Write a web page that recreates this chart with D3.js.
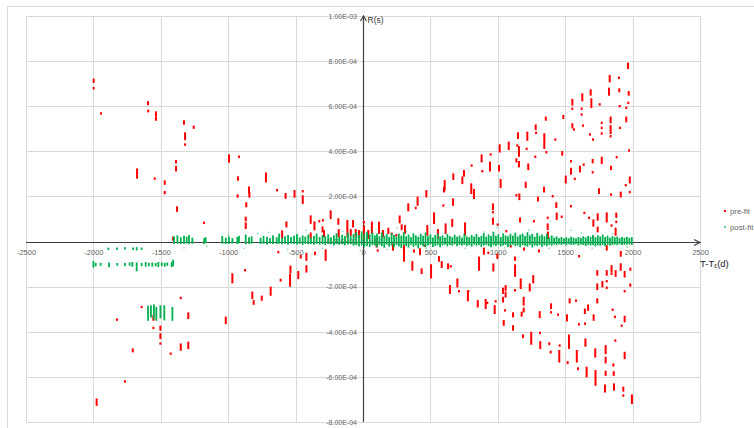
<!DOCTYPE html>
<html>
<head>
<meta charset="utf-8">
<script src="https://cdn.jsdelivr.net/npm/d3@7"></script>
<style>
  html, body { margin: 0; padding: 0; background: #fff; }
  svg { display: block; font-family: "Liberation Sans", Arial, sans-serif; }
</style>
</head>
<body>
<svg id="chart" width="754" height="428"></svg>
<script>
// ---- axis ticks -------------------------------------------------------
const xTicks = [-2500, -2000, -1500, -1000, -500, 0, 500, 1000, 1500, 2000, 2500];
const yTicks = [-8e-4, -6e-4, -4e-4, -2e-4, 0, 2e-4, 4e-4, 6e-4, 8e-4, 1e-3];
const seriesNames = ["pre-fit", "post-fit"];
const xTitle = "T-T";
const xTitleSub = "ε";
const xTitleTail = "(d)";
const yTitle = "R(s)";

// ---- timing residuals, in units of 1e-4 s -----------------------------
// one entry per observing session: [T-Tc (days), highest R, lowest R]
const UNIT = 1e-4;

const preFit = [
  // T < 0, R > 0
  [-1998, 7.17, 7.09], [-1998, 6.80, 6.80], [-1944, 5.68, 5.68], [-1595, 6.17, 6.10],
  [-1593, 5.80, 5.78], [-1536, 5.72, 5.62], [-1536, 5.50, 5.41], [-1328, 5.32, 5.23],
  [-1320, 4.79, 4.55], [-1320, 4.30, 4.30], [-1256, 5.09, 5.05], [-1676, 3.19, 2.84],
  [-1545, 2.79, 2.79], [-1387, 3.56, 3.52], [-1387, 3.30, 3.16], [-1471, 2.66, 2.57],
  [-1471, 2.19, 2.15], [-1380, 1.51, 1.37], [-1409, 0.16, 0.09], [-1179, 0.83, 0.83],
  [-994, 3.81, 3.55], [-920, 3.76, 3.76], [-927, 2.84, 2.75], [-930, 2.04, 2.00],
  [-866, 1.69, 1.57], [-870, 1.05, 0.95], [-870, 0.80, 0.61], [-846, 2.39, 2.19],
  [-843, 2.15, 2.00], [-720, 3.01, 2.67], [-638, 2.28, 2.28], [-574, 2.10, 1.95],
  [-508, 2.23, 2.00], [-447, 2.23, 2.23], [-447, 2.00, 1.72], [-568, 0.84, 0.68],
  [-600, 0.44, 0.18], [-388, 1.11, 0.84], [-388, 0.35, 0.16], [-360, 0.84, 0.55],
  [-324, 0.90, 0.90], [-297, 0.94, 0.94], [-300, 0.62, 0.46], [-289, 0.45, 0.24],
  [-240, 1.33, 1.05], [-183, 0.98, 0.80], [-180, 0.50, 0.24], [-116, 0.90, 0.61],
  [-116, 0.53, 0.24], [-91, 0.50, 0.31], [-74, 0.90, 0.68], [-54, 0.50, 0.24],
  [-30, 0.46, 0.18],
  // T > 0, R > 0
  [7, 0.86, 0.86], [7, 0.67, 0.09], [39, 0.46, 0.16], [66, 0.83, 0.39], [119, 0.83, 0.39],
  [148, 0.46, 0.24], [188, 0.56, 0.39], [213, 0.35, 0.35], [247, 0.28, 0.28], [272, 1.10, 0.86],
  [287, 0.71, 0.56], [312, 0.68, 0.40], [336, 1.64, 1.39], [391, 1.49, 1.49], [405, 1.94, 1.64],
  [470, 2.23, 2.01], [477, 0.68, 0.31], [527, 1.24, 0.83], [556, 0.50, 0.16], [596, 1.60, 1.60],
  [606, 2.67, 2.31], [601, 2.38, 2.23], [613, 0.75, 0.39], [662, 0.95, 0.70], [670, 2.97, 2.78],
  [668, 1.86, 1.64], [737, 2.83, 2.60], [749, 3.12, 2.93], [757, 0.80, 0.65], [757, 0.56, 0.31],
  [803, 2.53, 2.16], [823, 2.28, 1.94], [806, 3.37, 3.37], [880, 3.81, 3.56], [885, 3.12, 3.12],
  [942, 3.49, 3.16], [947, 3.86, 3.86], [964, 1.64, 1.45], [964, 1.30, 1.30], [964, 1.01, 0.80],
  [999, 0.75, 0.75], [1009, 3.34, 3.16], [1014, 4.26, 4.00], [1021, 2.72, 2.43], [1063, 0.46, 0.46],
  [1081, 4.38, 4.11], [1138, 3.64, 3.56], [1145, 4.26, 4.26], [1150, 4.79, 4.60], [1157, 4.18, 3.81],
  [1157, 3.52, 3.34], [1138, 2.05, 2.05], [1160, 2.08, 1.89], [1165, 1.02, 0.90], [1207, 2.60, 2.43],
  [1214, 4.11, 4.11], [1219, 4.82, 4.52], [1226, 3.41, 3.22], [1268, 0.90, 0.90], [1278, 3.76, 3.76],
  [1281, 5.14, 5.00], [1284, 4.82, 4.82], [1298, 1.94, 1.83], [1343, 2.38, 2.23], [1345, 4.75, 4.16],
  [1356, 5.49, 5.41], [1360, 3.96, 3.96], [1370, 1.05, 1.05], [1370, 0.75, 0.56], [1372, 0.39, 0.16],
  [1407, 2.01, 2.01], [1427, 4.52, 4.52], [1434, 1.69, 1.54], [1437, 1.23, 1.01], [1474, 1.10, 1.10],
  [1478, 3.96, 3.86], [1486, 5.56, 5.49], [1504, 2.87, 2.63], [1543, 3.56, 3.56], [1543, 3.22, 3.02],
  [1543, 1.57, 1.57], [1553, 6.27, 6.08], [1553, 5.89, 5.89], [1553, 5.19, 5.07], [1565, 4.97, 4.97],
  [1571, 2.78, 2.78], [1610, 3.31, 3.12], [1622, 5.89, 5.89], [1622, 5.63, 5.63], [1627, 6.52, 6.27],
  [1632, 5.14, 5.14], [1637, 3.41, 3.41], [1642, 1.27, 1.27], [1677, 1.05, 1.05], [1684, 4.75, 4.75],
  [1689, 6.70, 6.52], [1694, 6.30, 5.97], [1704, 3.61, 3.52], [1704, 3.07, 3.07], [1706, 4.52, 4.52],
  [1709, 0.93, 0.71], [1706, 0.21, 0.21], [1741, 1.20, 0.98], [1741, 0.61, 0.46], [1751, 2.31, 2.16],
  [1756, 6.08, 6.08], [1771, 5.26, 5.26], [1771, 5.04, 5.04], [1771, 4.79, 4.79], [1771, 3.71, 3.49],
  [1808, 1.24, 0.90], [1825, 6.77, 6.52], [1830, 7.33, 7.11], [1837, 5.49, 5.29], [1837, 5.11, 4.82],
  [1837, 4.67, 4.67], [1840, 3.31, 3.22], [1840, 2.08, 2.08], [1844, 0.71, 0.71], [1874, 0.56, 0.31],
  [1879, 1.23, 1.10], [1879, 0.87, 0.87], [1882, 3.74, 3.74], [1899, 7.26, 7.26], [1901, 6.74, 6.67],
  [1904, 6.00, 6.00], [1906, 5.04, 5.04], [1912, 2.16, 2.01], [1949, 2.50, 2.50], [1953, 5.93, 5.93],
  [1953, 5.49, 5.34], [1966, 7.88, 7.70], [1968, 6.15, 6.15], [1971, 6.62, 6.52], [1973, 4.04, 4.04],
  [1979, 2.83, 2.63], [1979, 2.19, 2.19],
  // T > 0, R < 0
  [101, 0.09, -0.21], [109, -0.40, -0.40], [222, -0.13, -0.35], [304, -0.21, -0.84], [366, -0.92, -1.24],
  [378, -0.40, -0.43], [423, -0.35, -0.55], [435, -1.24, -1.39], [458, -0.18, -0.18], [505, -1.06, -1.58],
  [564, -0.70, -0.84], [584, -0.92, -1.12], [631, -1.02, -1.17], [651, -1.10, -1.10], [645, -1.98, -2.27],
  [700, -1.69, -1.98], [712, -2.20, -2.20], [781, -2.20, -2.20], [778, -2.25, -2.60], [851, -2.65, -2.87],
  [910, -2.60, -2.94], [922, -2.72, -2.72], [897, -0.32, -0.53], [930, -0.50, -0.50], [861, -0.72, -1.24],
  [967, -1.02, -1.27], [977, -2.87, -3.16], [984, -2.65, -2.65], [997, -0.58, -0.72], [1039, -2.10, -2.27],
  [1039, -2.50, -2.65], [1044, -3.53, -3.68], [1053, -3.05, -3.05], [1058, -1.98, -2.13], [1058, -2.27, -2.43],
  [1096, -0.21, -0.21], [1113, -3.19, -3.31], [1113, -3.76, -3.90], [1128, -0.72, -0.80], [1128, -1.06, -1.51],
  [1128, -2.16, -2.16], [1170, -1.69, -2.05], [1177, -3.16, -3.28], [1187, -4.17, -4.23], [1192, -2.50, -2.79],
  [1192, -2.98, -3.09], [1194, -0.32, -0.35], [1237, -1.91, -2.16], [1248, -4.05, -4.52], [1263, -1.54, -1.80],
  [1305, -0.40, -0.43], [1311, -3.14, -3.34], [1313, -4.05, -4.05], [1315, -4.47, -4.71], [1382, -4.52, -4.54],
  [1392, -4.89, -4.91], [1395, -2.79, -2.94], [1395, -3.14, -3.14], [1447, -3.24, -3.24], [1456, -4.86, -5.31],
  [1459, -4.61, -4.61], [1513, -3.28, -3.49], [1518, -5.35, -5.38], [1528, -4.17, -4.71], [1533, -2.57, -2.69],
  [1580, -2.62, -2.62], [1586, -4.86, -5.31], [1595, -5.63, -5.65], [1603, -0.65, -0.65], [1602, -3.67, -3.67],
  [1646, -3.02, -3.16], [1647, -3.64, -3.64], [1650, -4.35, -4.61], [1659, -5.60, -5.97], [1670, -2.84, -3.02],
  [1711, -3.28, -3.46], [1723, -4.79, -5.09], [1725, -5.75, -5.95], [1725, -6.05, -6.34], [1738, -2.57, -2.69],
  [1738, -1.32, -1.46], [1738, -1.91, -2.10], [1776, -1.80, -1.98], [1795, -6.39, -6.64], [1800, -4.64, -4.94],
  [1800, -5.16, -5.35], [1800, -5.78, -5.90], [1808, -1.32, -1.46], [1808, -1.76, -1.76], [1808, -2.05, -2.05],
  [1808, -0.21, -0.35], [1844, -1.10, -1.32], [1844, -1.43, -1.43], [1852, -3.02, -3.02], [1857, -5.46, -5.49],
  [1860, -5.80, -5.90], [1862, -6.34, -6.56], [1869, -3.34, -3.34], [1872, -4.39, -4.39], [1874, -1.32, -1.51],
  [1912, -1.02, -1.24], [1912, -0.47, -0.62], [1919, -3.73, -3.73], [1931, -6.49, -6.60], [1931, -6.83, -6.83],
  [1941, -1.36, -1.54], [1941, -2.20, -2.20], [1941, -3.34, -3.53], [1941, -4.94, -5.16], [1983, -1.21, -1.24],
  [1983, -1.91, -1.95], [1995, -6.83, -7.15],
  // T < 0, R < 0
  [-1976, -7.01, -7.23], [-1825, -3.46, -3.46], [-1766, -6.20, -6.20], [-1708, -4.79, -4.86],
  [-1642, -2.90, -2.90], [-1555, -3.31, -3.46], [-1555, -3.83, -3.83], [-1503, -3.78, -3.90],
  [-1503, -4.12, -4.27], [-1503, -4.52, -4.52], [-1427, -4.97, -4.97], [-1352, -2.50, -2.50],
  [-1352, -4.57, -4.79], [-1296, -3.19, -3.38], [-1296, -4.49, -4.71], [-1018, -3.38, -3.61],
  [-969, -1.46, -1.80], [-875, -1.27, -1.27], [-821, -2.27, -2.50], [-811, -2.65, -2.75],
  [-751, -2.45, -2.57], [-685, -2.05, -2.35], [-611, -1.70, -1.72], [-628, -0.47, -0.47],
  [-538, -1.12, -1.36], [-541, -1.48, -1.95], [-480, -1.36, -1.61], [-462, -0.65, -0.70],
  [-420, -0.55, -0.80], [-420, -1.10, -1.32], [-356, -0.50, -0.55], [-277, -0.40, -0.80]
];

const postFit = [
  // early sessions, offset groups
  [-1889, -0.32, -0.32], [-1825, -0.32, -0.32], [-1766, -0.30, -0.30], [-1706, -0.32, -0.32],
  [-1679, -0.30, -0.34], [-1642, -0.32, -0.32],
  [-2000, -0.92, -1.10], [-1983, -1.00, -1.04], [-1946, -1.00, -1.02], [-1884, -0.98, -1.08],
  [-1823, -1.00, -1.02], [-1766, -1.00, -1.04], [-1731, -0.98, -1.02], [-1711, -0.96, -1.06],
  [-1679, -0.98, -1.27], [-1642, -1.00, -1.04], [-1612, -0.96, -1.06], [-1588, -1.00, -1.04],
  [-1563, -0.98, -1.06], [-1538, -1.00, -1.04], [-1518, -0.96, -1.08], [-1493, -0.98, -1.04],
  [-1471, -1.00, -1.06], [-1452, -0.98, -1.02], [-1419, -0.96, -1.08], [-1409, -0.86, -1.04],
  [-1595, -2.90, -3.46], [-1573, -2.88, -3.32], [-1551, -2.84, -3.39], [-1533, -2.95, -3.46],
  [-1503, -2.88, -3.35], [-1474, -2.88, -3.44], [-1414, -2.95, -3.46],
  // sessions near R = 0
  [-1402, 0.18, -0.05], [-1377, 0.22, -0.04], [-1352, 0.14, -0.06], [-1328, 0.20, -0.05],
  [-1308, 0.16, -0.03], [-1291, 0.24, -0.06], [-1266, 0.12, -0.04], [-1179, 0.10, -0.05],
  [-1167, 0.14, -0.02], [-1044, 0.20, -0.04], [-1018, 0.12, -0.06], [-994, 0.17, -0.05],
  [-969, 0.10, -0.03], [-932, 0.15, -0.06], [-920, 0.20, -0.02], [-870, 0.26, -0.07],
  [-846, 0.14, -0.05], [-826, 0.18, -0.04], [-760, 0.12, -0.06], [-738, 0.20, -0.04],
  [-712, 0.16, -0.08], [-690, 0.10, -0.03], [-668, 0.22, -0.06], [-640, 0.14, -0.05],
  [-622, 0.30, -0.04], [-600, 0.12, -0.07], [-578, 0.18, -0.05], [-556, 0.24, -0.09],
  [-534, 0.15, -0.04], [-512, 0.20, -0.06], [-490, 0.28, -0.08], [-470, 0.13, -0.05],
  [-448, 0.22, -0.10], [-428, 0.17, -0.04], [-406, 0.26, -0.07], [-386, 0.12, -0.06],
  [-364, 0.20, -0.09], [-344, 0.30, -0.05], [-322, 0.15, -0.08], [-300, 0.24, -0.06],
  [-280, 0.18, -0.10], [-258, 0.27, -0.05], [-238, 0.14, -0.07], [-216, 0.22, -0.12],
  [-196, 0.32, -0.06], [-176, 0.16, -0.09], [-154, 0.25, -0.07], [-134, 0.19, -0.11],
  [-112, 0.34, -0.08], [-92, 0.21, -0.06], [-70, 0.28, -0.13], [-50, 0.36, -0.10],
  [-30, 0.24, -0.16], [-10, 0.40, -0.12], [10, 0.30, -0.20], [30, 0.38, -0.14],
  [50, 0.26, -0.18], [70, 0.34, -0.10], [88, 0.22, -0.12], [104, 0.30, -0.20],
  [122, 0.18, -0.10], [140, 0.34, -0.15], [158, 0.20, -0.22], [176, 0.28, -0.08],
  [194, 0.15, -0.17], [212, 0.32, -0.12], [230, 0.24, -0.20], [248, 0.17, -0.10],
  [266, 0.30, -0.16], [284, 0.21, -0.24], [302, 0.36, -0.11], [320, 0.18, -0.14],
  [338, 0.26, -0.21], [356, 0.14, -0.09], [374, 0.31, -0.18], [392, 0.22, -0.12],
  [410, 0.16, -0.25], [428, 0.29, -0.10], [446, 0.20, -0.15], [464, 0.35, -0.20],
  [482, 0.18, -0.12], [500, 0.27, -0.08], [518, 0.13, -0.19], [536, 0.24, -0.14],
  [554, 0.30, -0.10], [572, 0.17, -0.20], [590, 0.22, -0.12], [608, 0.12, -0.08],
  [626, 0.28, -0.16], [644, 0.19, -0.10], [662, 0.14, -0.13], [680, 0.25, -0.07],
  [698, 0.16, -0.15], [716, 0.21, -0.10], [734, 0.12, -0.12], [752, 0.30, -0.09],
  [770, 0.18, -0.14], [788, 0.14, -0.10], [806, 0.24, -0.17], [824, 0.17, -0.08],
  [842, 0.28, -0.13], [860, 0.15, -0.10], [878, 0.20, -0.18], [896, 0.32, -0.12],
  [914, 0.16, -0.09], [932, 0.26, -0.15], [950, 0.19, -0.20], [968, 0.38, -0.11],
  [986, 0.20, -0.14], [1004, 0.27, -0.09], [1022, 0.15, -0.16], [1040, 0.31, -0.12],
  [1058, 0.22, -0.10], [1076, 0.18, -0.19], [1094, 0.29, -0.13], [1112, 0.21, -0.08],
  [1130, 0.34, -0.15], [1148, 0.17, -0.12], [1166, 0.25, -0.20], [1184, 0.30, -0.10],
  [1202, 0.19, -0.14], [1220, 0.36, -0.17], [1238, 0.22, -0.09], [1256, 0.28, -0.21],
  [1274, 0.16, -0.12], [1292, 0.33, -0.14], [1310, 0.20, -0.10], [1328, 0.26, -0.18],
  [1346, 0.18, -0.11], [1364, 0.30, -0.15], [1382, 0.14, -0.09], [1400, 0.22, -0.13],
  [1418, 0.12, -0.08], [1436, 0.18, -0.11], [1454, 0.10, -0.07], [1472, 0.15, -0.10],
  [1490, 0.09, -0.06], [1508, 0.14, -0.12], [1526, 0.10, -0.07], [1544, 0.16, -0.09],
  [1562, 0.12, -0.10], [1580, 0.09, -0.06], [1598, 0.15, -0.12], [1616, 0.11, -0.08],
  [1634, 0.18, -0.10], [1652, 0.13, -0.14], [1670, 0.20, -0.09], [1688, 0.16, -0.12],
  [1706, 0.24, -0.10], [1724, 0.14, -0.16], [1742, 0.22, -0.11], [1760, 0.17, -0.13],
  [1778, 0.26, -0.10], [1796, 0.15, -0.15], [1814, 0.21, -0.09], [1832, 0.12, -0.12],
  [1850, 0.19, -0.10], [1868, 0.14, -0.08], [1886, 0.17, -0.11], [1904, 0.10, -0.07],
  [1922, 0.15, -0.10], [1940, 0.12, -0.09], [1958, 0.16, -0.08], [1976, 0.11, -0.07],
  [1994, 0.14, -0.10]
];

// isolated post-fit points lying off the main band: [T-Tc (days), R]
const postFitLoose = [
  [-1328, -0.28], [-1160, -0.20], [-1000, 0.30], [-880, -0.30], [-780, 0.35], [-700, 0.40],
  [-560, -0.35], [-420, 0.50], [-300, -0.30], [-150, 0.45], [-20, -0.40], [60, 0.50],
  [180, -0.35], [250, 0.60], [320, 0.45], [470, -0.30], [610, 0.40], [760, -0.30],
  [900, 0.42], [993, 0.62], [1050, -0.28], [1230, 0.50], [1250, 0.31], [1380, -0.30],
  [1543, 0.50], [1620, 0.38], [1700, -0.30], [1850, 0.33], [1960, -0.25]
];

// ---- layout ------------------------------------------------------------
const svg = d3.select("#chart");
const plot = { left: 26, right: 700, top: 16, bottom: 422 };
const x = d3.scaleLinear().domain([-2500, 2500]).range([plot.left, plot.right]);
const y = d3.scaleLinear().domain([-8e-4, 1e-3]).range([plot.bottom, plot.top]);

const gridColor = "#d9d9d9";
const axisColor = "#404040";
const labelColor = "#666666";
const preColor = "#ff0000";
const postColor = "#00b050";

const locale = d3.formatLocale({ decimal: ".", thousands: ",", grouping: [3], currency: ["", ""], minus: "-" });
const fmtInt = locale.format("d");
function sci(v) {
  const s = locale.format(".2e")(v);
  const [m, e] = s.split("e");
  const n = +e;
  return m + "E" + (n < 0 ? "-" : "+") + String(Math.abs(n)).padStart(2, "0");
}

// outer chart frame
svg.append("path")
  .attr("d", "M7.5,428 V6.5 H754")
  .attr("fill", "none").attr("stroke", gridColor).attr("stroke-width", 1);

// gridlines
const grid = svg.append("g").attr("shape-rendering", "crispEdges");
grid.selectAll("line.v").data(xTicks).join("line")
  .attr("class", "v")
  .attr("x1", d => Math.round(x(d)) + 0.5).attr("x2", d => Math.round(x(d)) + 0.5)
  .attr("y1", plot.top).attr("y2", plot.bottom)
  .attr("stroke", gridColor);
grid.selectAll("line.h").data(yTicks).join("line")
  .attr("class", "h")
  .attr("y1", d => Math.round(y(d)) + 0.5).attr("y2", d => Math.round(y(d)) + 0.5)
  .attr("x1", plot.left).attr("x2", plot.right)
  .attr("stroke", gridColor);

// tick labels via D3 axes (domain path and tick lines hidden)
const x0 = Math.round(x(0)) + 0.5;
const y0 = Math.round(y(0)) + 0.5;

const xAxis = svg.append("g")
  .attr("transform", `translate(0,${y0})`)
  .call(d3.axisBottom(x).tickValues(xTicks).tickFormat(fmtInt).tickSize(0).tickPadding(7.5));
const yAxis = svg.append("g")
  .attr("transform", `translate(${x0},0)`)
  .call(d3.axisLeft(y).tickValues(yTicks).tickFormat(sci).tickSize(0).tickPadding(6.5));
[xAxis, yAxis].forEach(g => {
  g.select(".domain").remove();
  g.attr("font-family", null).attr("font-size", null);
  g.selectAll("text").attr("fill", labelColor).style("font-size", "7.5px");
});
yAxis.selectAll("text").style("font-size", "7px");

// axis lines with arrowheads
const axes = svg.append("g").attr("stroke", axisColor).attr("fill", "none").attr("stroke-width", 1.2);
axes.append("line").attr("x1", x0).attr("x2", x0).attr("y1", plot.bottom).attr("y2", plot.top);
axes.append("path").attr("d", `M${x0 - 3},${plot.top + 5} L${x0},${plot.top} L${x0 + 3},${plot.top + 5}`);
axes.append("line").attr("x1", plot.left).attr("x2", plot.right).attr("y1", y0).attr("y2", y0);
axes.append("path").attr("d", `M${plot.right - 6},${y0 - 3} L${plot.right},${y0} L${plot.right - 6},${y0 + 3}`);

// axis titles
svg.append("text")
  .attr("x", x0 + 4).attr("y", plot.top + 6.5)
  .attr("fill", "#333").style("font-size", "8.5px")
  .text(yTitle);
const xt = svg.append("text")
  .attr("x", plot.right).attr("y", y0 + 24)
  .attr("fill", "#222").style("font-size", "9.5px");
xt.append("tspan").text(xTitle);
xt.append("tspan").attr("dy", 1.5).style("font-size", "6.5px").text(xTitleSub);
xt.append("tspan").attr("dy", -1.5).text(xTitleTail);

// session marks: a narrow bar spanning each session's residual range
function drawSessions(g, data, color, w) {
  g.selectAll("rect").data(data).join("rect")
    .attr("x", d => x(d[0]) - w / 2)
    .attr("width", w)
    .attr("y", d => y(d[1] * UNIT) - 1.2)
    .attr("height", d => Math.max(0, y(d[2] * UNIT) - y(d[1] * UNIT)) + 2.4)
    .attr("fill", color);
}

drawSessions(svg.append("g"), preFit, preColor, 2);
drawSessions(svg.append("g"), postFit, postColor, 1.8);

svg.append("g").selectAll("rect").data(postFitLoose).join("rect")
  .attr("x", d => x(d[0]) - 0.75).attr("width", 1.5)
  .attr("y", d => y(d[1] * UNIT) - 0.75).attr("height", 1.5)
  .attr("fill", postColor).attr("opacity", 0.45);

// legend
const legend = svg.append("g");
const legendY = [211, 227];
const legendColors = [preColor, postColor];
legend.selectAll("rect").data(seriesNames).join("rect")
  .attr("x", 724).attr("y", (d, i) => legendY[i] - 1)
  .attr("width", 2).attr("height", 2)
  .attr("fill", (d, i) => legendColors[i])
  .attr("opacity", (d, i) => i === 0 ? 1 : 0.6);
legend.selectAll("text").data(seriesNames).join("text")
  .attr("x", 730).attr("y", (d, i) => legendY[i] + 2.7)
  .attr("fill", labelColor).style("font-size", "7.8px")
  .text(d => d);
</script>
</body>
</html>
